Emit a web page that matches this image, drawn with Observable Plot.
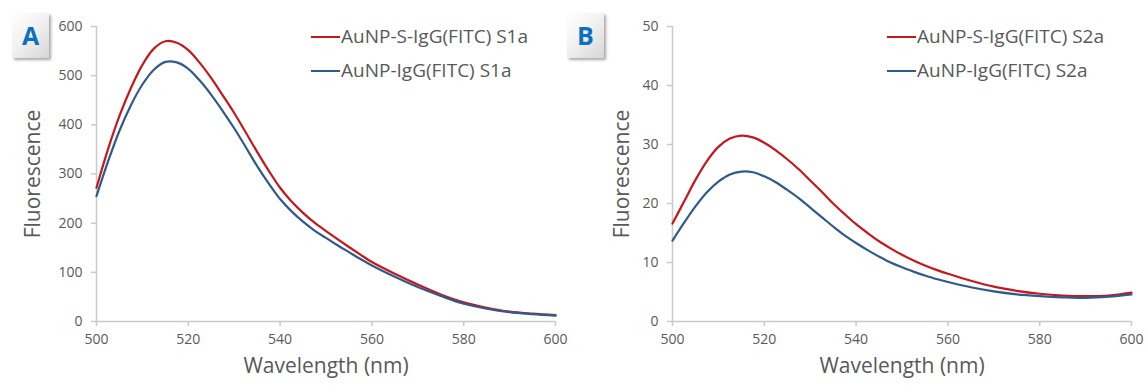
<!DOCTYPE html>
<html><head><meta charset="utf-8">
<script src="https://cdn.jsdelivr.net/npm/d3@7"></script>
<script src="https://cdn.jsdelivr.net/npm/@observablehq/plot@0.6"></script>
<style>
body{margin:0;background:#fff;font-family:"Open Sans",sans-serif;}
#wrap{position:relative;width:1147px;height:387px;overflow:hidden;background:#fff}
.panel{position:absolute;top:0}
.badge{position:absolute;width:37px;height:45px;background:linear-gradient(135deg,#ffffff 0%,#f2f2f2 45%,#d6d6d6 100%);box-shadow:2px 2px 3px rgba(0,0,0,0.35);color:#0a70c4;font-weight:700;font-size:25px;line-height:45px;text-align:center;border-radius:1px}
.leg{position:absolute;font-size:19px;color:#595959;line-height:20px;height:20px;white-space:nowrap}
.leg span.sw{display:inline-block;width:29px;height:2px;vertical-align:middle;margin-right:1px;position:relative;top:-1px}
</style></head><body><div id="wrap"></div>
<script>
// ---- data ----
const wavelengths = [500,502.5,505,507.5,510,512.5,515,517.5,520,522.5,525,527.5,530,532.5,535,537.5,540,542.5,545,547.5,550,552.5,555,557.5,560,565,570,575,580,585,590,595,600];
const seriesA = ["AuNP-S-IgG(FITC) S1a", "AuNP-IgG(FITC) S1a"];
const seriesB = ["AuNP-S-IgG(FITC) S2a", "AuNP-IgG(FITC) S2a"];
const redA  = [272,350,418,475,522,555,570,567,552,526,495,460,424,385,345,307,272,244,221,201,184,167.5,151.5,136,121,97,75,55,39,28,20,16,13];
const blueA = [255,325,388,440,482,512,528,527,514,490,461,428,393,355,316,281,249,224,203,185,170,155,141,127,114,91,70,52,36,26,19,15,12];
const redB  = [16.6,20.3,24.0,27.2,29.6,31.0,31.5,31.2,30.3,29.0,27.5,25.8,23.9,22.0,20.0,18.2,16.5,15.0,13.6,12.4,11.3,10.35,9.5,8.75,8.1,6.9,5.9,5.2,4.7,4.4,4.3,4.4,4.9];
const blueB = [13.7,16.7,19.5,21.9,23.7,24.9,25.4,25.3,24.6,23.6,22.3,20.9,19.3,17.7,16.1,14.6,13.3,12.1,11.0,10.0,9.2,8.45,7.8,7.2,6.7,5.8,5.1,4.6,4.3,4.1,4.0,4.2,4.6];
const xTicks = [500,520,540,560,580,600];
const yTicksA = [0,100,200,300,400,500,600];
const yTicksB = [0,10,20,30,40,50];
const xTitle = "Wavelength (nm)";
const yTitle = "Fluorescence";
const colors = ["#c8161e", "#2f5b8c"];

function rows(names, a, b) {
  return wavelengths.flatMap((w, i) => [
    {wl: w, v: a[i], s: names[0]},
    {wl: w, v: b[i], s: names[1]}
  ]);
}

function makePanel(names, a, b, yTicks, opts) {
  const axisCol = "#c9c9c9";
  return Plot.plot({
    width: opts.width, height: 387,
    marginLeft: opts.ml, marginRight: opts.mr, marginTop: 26, marginBottom: 66,
    style: {fontFamily: "'Open Sans', sans-serif", background: "white", overflow: "visible"},
    x: {domain: [500, 600]},
    y: {domain: [0, yTicks[yTicks.length - 1]]},
    color: {domain: names, range: colors},
    marks: [
      Plot.axisX({ticks: xTicks, tickSize: 5, tickPadding: 8, stroke: axisCol, strokeWidth: 1.5, fill: "#595959", fontSize: 14, label: null}),
      Plot.axisY({ticks: yTicks, tickSize: 5, tickPadding: 9, stroke: axisCol, strokeWidth: 1.5, fill: "#595959", fontSize: 14, label: null}),
      Plot.ruleY([0], {stroke: axisCol, strokeWidth: 1.5}),
      Plot.ruleX([500], {stroke: axisCol, strokeWidth: 1.5}),
      Plot.line(rows(names, a, b), {x: "wl", y: "v", stroke: "s", z: "s", curve: "catmull-rom", strokeWidth: 2.2}),
      Plot.text([xTitle], {frameAnchor: "bottom", dy: 51, fontSize: 21, fill: "#595959"}),
      Plot.text([yTitle], {frameAnchor: "left", textAnchor: "middle", dx: opts.ydx, rotate: -90, fontSize: 21, fill: "#595959"})
    ]
  });
}

const wrap = document.getElementById("wrap");
function place(node, left) {
  const d = document.createElement("div");
  d.className = "panel"; d.style.left = left + "px";
  d.appendChild(node); wrap.appendChild(d);
}
place(makePanel(seriesA, redA, blueA, yTicksA, {width: 573, ml: 96, mr: 18, ydx: -63}), 0);
place(makePanel(seriesB, redB, blueB, yTicksB, {width: 574, ml: 99, mr: 16, ydx: -50}), 573);

function badge(txt, left) {
  const d = document.createElement("div");
  d.className = "badge"; d.textContent = txt;
  d.style.left = left + "px"; d.style.top = "13px";
  wrap.appendChild(d);
}
badge("A", 12); badge("B", 567);

function legend(names, left) {
  names.forEach((n, i) => {
    const d = document.createElement("div");
    d.className = "leg";
    d.style.left = left + "px";
    d.style.top = (i === 0 ? 26 : 60) + "px";
    const sw = document.createElement("span");
    sw.className = "sw"; sw.style.background = colors[i];
    d.appendChild(sw);
    d.appendChild(document.createTextNode(n));
    wrap.appendChild(d);
  });
}
legend(seriesA, 311);
legend(seriesB, 887);
</script></body></html>
